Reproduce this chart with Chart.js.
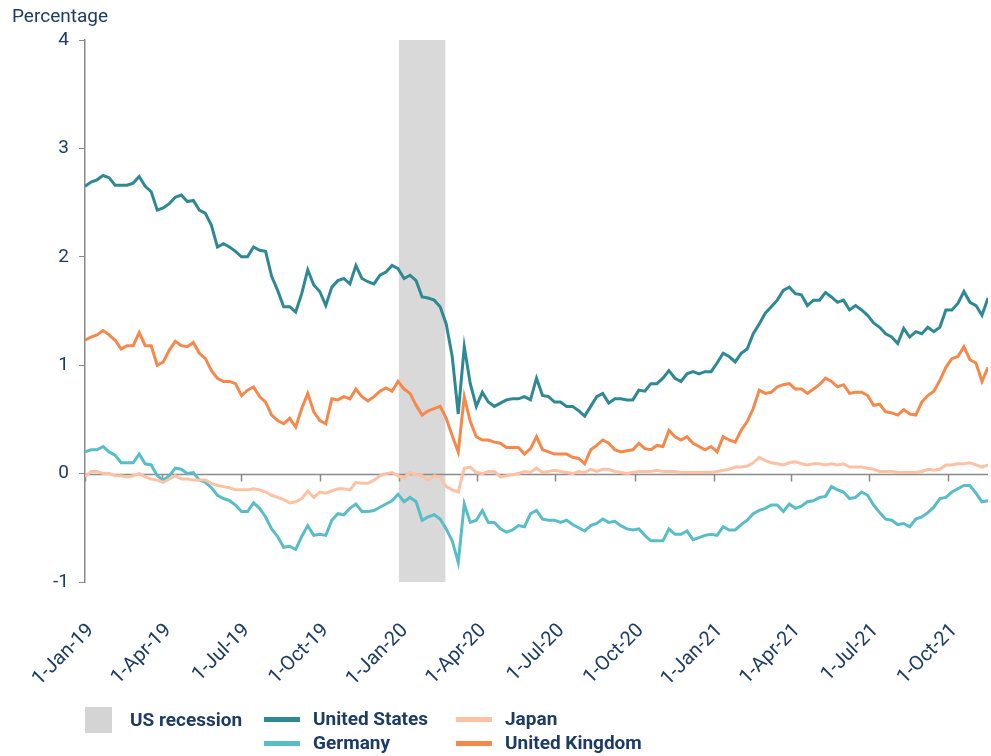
<!DOCTYPE html>
<html>
<head>
<meta charset="utf-8">
<script src="https://cdn.jsdelivr.net/npm/chart.js@4"></script>
<style>
  body { margin: 0; background: #fff; font-family: Roboto, "Noto Sans", sans-serif; color: #1d3c64; }
  #wrap { position: relative; width: 991px; height: 756px; }
  #ytitle { position: absolute; left: 12px; top: 4px; font-size: 19px; }
  .leg { position: absolute; font-size: 19px; font-weight: bold; line-height: 24px; white-space: nowrap; }
  .sw { position: absolute; }
</style>
</head>
<body>
<div id="wrap">
  <canvas id="yieldChart" width="991" height="756"></canvas>
  <div id="ytitle">Percentage</div>
  <div id="legend"></div>
</div>
<script>
// weekly samples starting 1-Jan-19
const startDate = "2019-01-01";
const endDate = "2021-11-16";

const usYield = [
  2.65, 2.69, 2.71, 2.75, 2.73, 2.66, 2.66, 2.66, 2.68, 2.74,
  2.65, 2.60, 2.43, 2.45, 2.49, 2.55, 2.57, 2.51, 2.52, 2.43,
  2.40, 2.29, 2.09, 2.12, 2.09, 2.05, 2.00, 2.00, 2.09, 2.06,
  2.05, 1.82, 1.69, 1.54, 1.54, 1.49, 1.66, 1.88, 1.74, 1.68,
  1.55, 1.72, 1.78, 1.80, 1.75, 1.92, 1.80, 1.77, 1.75, 1.83,
  1.86, 1.92, 1.89, 1.80, 1.83, 1.78, 1.63, 1.62, 1.60, 1.54,
  1.38, 1.08, 0.55, 1.17, 0.83, 0.62, 0.75, 0.66, 0.62, 0.65,
  0.68, 0.69, 0.69, 0.71, 0.68, 0.88, 0.72, 0.71, 0.66, 0.66,
  0.62, 0.62, 0.58, 0.53, 0.62, 0.71, 0.74, 0.65, 0.69, 0.69,
  0.68, 0.68, 0.77, 0.76, 0.83, 0.83, 0.88, 0.95, 0.88, 0.85,
  0.92, 0.94, 0.92, 0.94, 0.94, 1.02, 1.11, 1.08, 1.03, 1.11,
  1.15, 1.29, 1.38, 1.48, 1.54, 1.60, 1.69, 1.72, 1.66, 1.65,
  1.55, 1.60, 1.60, 1.67, 1.63, 1.58, 1.60, 1.51, 1.55, 1.51,
  1.46, 1.39, 1.35, 1.29, 1.26, 1.20, 1.34, 1.26, 1.31, 1.29,
  1.35, 1.31, 1.35, 1.51, 1.51, 1.57, 1.68, 1.58, 1.55, 1.46,
  1.62
];

const germanyYield = [
  0.20, 0.22, 0.22, 0.25, 0.20, 0.17, 0.10, 0.10, 0.10, 0.18,
  0.09, 0.08, -0.02, -0.06, -0.02, 0.05, 0.04, 0.00, 0.01, -0.06,
  -0.08, -0.13, -0.20, -0.23, -0.25, -0.29, -0.35, -0.35, -0.27, -0.32,
  -0.40, -0.51, -0.58, -0.68, -0.67, -0.70, -0.58, -0.48, -0.57, -0.56,
  -0.57, -0.43, -0.37, -0.38, -0.32, -0.28, -0.35, -0.35, -0.34, -0.31,
  -0.28, -0.25, -0.19, -0.26, -0.22, -0.26, -0.43, -0.40, -0.38, -0.42,
  -0.51, -0.62, -0.82, -0.28, -0.45, -0.43, -0.34, -0.45, -0.45, -0.51,
  -0.54, -0.52, -0.48, -0.49, -0.37, -0.34, -0.42, -0.43, -0.43, -0.45,
  -0.43, -0.47, -0.50, -0.53, -0.48, -0.46, -0.42, -0.45, -0.44, -0.48,
  -0.51, -0.52, -0.51, -0.57, -0.62, -0.62, -0.62, -0.51, -0.56, -0.56,
  -0.53, -0.61, -0.59, -0.57, -0.56, -0.57, -0.49, -0.52, -0.52, -0.47,
  -0.43, -0.37, -0.34, -0.32, -0.29, -0.29, -0.35, -0.28, -0.32, -0.30,
  -0.26, -0.25, -0.22, -0.21, -0.12, -0.15, -0.17, -0.23, -0.22, -0.17,
  -0.20, -0.29, -0.36, -0.42, -0.43, -0.47, -0.46, -0.49, -0.42, -0.40,
  -0.36, -0.31, -0.23, -0.22, -0.17, -0.14, -0.11, -0.11, -0.18, -0.26,
  -0.25
];

const japanYield = [
  -0.03, 0.02, 0.02, 0.00, 0.00, -0.02, -0.02, -0.03, -0.02, 0.00,
  -0.03, -0.05, -0.06, -0.08, -0.05, -0.02, -0.05, -0.05, -0.06, -0.06,
  -0.06, -0.09, -0.11, -0.12, -0.13, -0.15, -0.15, -0.15, -0.14, -0.15,
  -0.17, -0.20, -0.22, -0.24, -0.27, -0.26, -0.23, -0.16, -0.22, -0.17,
  -0.18, -0.16, -0.14, -0.14, -0.15, -0.08, -0.09, -0.09, -0.06, -0.02,
  0.00, 0.01, -0.02, -0.04, 0.01, -0.01, -0.02, -0.06, -0.02, -0.03,
  -0.12, -0.15, -0.17, 0.05, 0.06, 0.01, 0.00, 0.02, 0.02, -0.03,
  -0.02, -0.01, 0.00, 0.02, 0.01, 0.05, 0.01, 0.02, 0.03, 0.02,
  0.01, 0.00, 0.02, 0.01, 0.04, 0.02, 0.04, 0.04, 0.02, 0.01,
  0.00, 0.01, 0.02, 0.02, 0.02, 0.03, 0.02, 0.02, 0.02, 0.01,
  0.01, 0.01, 0.01, 0.01, 0.01, 0.02, 0.03, 0.04, 0.06, 0.06,
  0.07, 0.10, 0.15, 0.12, 0.10, 0.09, 0.08, 0.10, 0.11, 0.09,
  0.08, 0.09, 0.09, 0.08, 0.09, 0.08, 0.09, 0.06, 0.06, 0.06,
  0.05, 0.04, 0.02, 0.02, 0.02, 0.01, 0.01, 0.01, 0.01, 0.02,
  0.04, 0.03, 0.04, 0.08, 0.08, 0.09, 0.09, 0.10, 0.08, 0.06,
  0.08
];

const ukYield = [
  1.23, 1.26, 1.28, 1.32, 1.28, 1.23, 1.15, 1.18, 1.18, 1.30,
  1.18, 1.18, 1.00, 1.03, 1.14, 1.22, 1.18, 1.17, 1.21, 1.11,
  1.06, 0.95, 0.88, 0.85, 0.85, 0.83, 0.72, 0.77, 0.80, 0.71,
  0.66, 0.54, 0.49, 0.46, 0.51, 0.43, 0.60, 0.74, 0.57, 0.49,
  0.46, 0.69, 0.68, 0.71, 0.69, 0.78, 0.71, 0.67, 0.71, 0.76,
  0.79, 0.76, 0.85, 0.78, 0.74, 0.63, 0.54, 0.58, 0.60, 0.62,
  0.51, 0.35, 0.20, 0.71, 0.48, 0.34, 0.31, 0.31, 0.29, 0.28,
  0.24, 0.24, 0.24, 0.18, 0.23, 0.34, 0.22, 0.20, 0.18, 0.18,
  0.18, 0.15, 0.14, 0.09, 0.22, 0.26, 0.31, 0.28, 0.22, 0.20,
  0.21, 0.22, 0.28, 0.23, 0.22, 0.26, 0.25, 0.40, 0.34, 0.31,
  0.34, 0.28, 0.25, 0.22, 0.25, 0.20, 0.34, 0.31, 0.29, 0.40,
  0.48, 0.60, 0.77, 0.74, 0.75, 0.80, 0.82, 0.83, 0.78, 0.78,
  0.74, 0.78, 0.82, 0.88, 0.85, 0.80, 0.82, 0.74, 0.75, 0.75,
  0.72, 0.63, 0.64, 0.57, 0.56, 0.54, 0.59, 0.55, 0.54, 0.66,
  0.72, 0.76, 0.86, 0.98, 1.06, 1.08, 1.17, 1.05, 1.02, 0.85,
  0.98
];

const tickDates = ["2019-01-01", "2019-04-01", "2019-07-01", "2019-10-01",
  "2020-01-01", "2020-04-01", "2020-07-01", "2020-10-01",
  "2021-01-01", "2021-04-01", "2021-07-01", "2021-10-01"];
const tickLabels = ["1-Jan-19", "1-Apr-19", "1-Jul-19", "1-Oct-19",
  "1-Jan-20", "1-Apr-20", "1-Jul-20", "1-Oct-20",
  "1-Jan-21", "1-Apr-21", "1-Jul-21", "1-Oct-21"];

const recession = ["2020-01-01", "2020-02-24"];

const textColor = "#1d3c64";
const axisColor = "#8a8a8a";

const dayOf = s => Math.round((Date.parse(s) - Date.parse(startDate)) / 864e5);
const tickDays = tickDates.map(dayOf);
const toPoints = arr => arr.map((v, i) => ({ x: i * 7, y: v }));

const series = [
  { label: "Japan", data: japanYield, color: "#fcc2a3" },
  { label: "Germany", data: germanyYield, color: "#59bdc7" },
  { label: "United Kingdom", data: ukYield, color: "#f6884b" },
  { label: "United States", data: usYield, color: "#2e8994" }
];

// recession band + zero line with small quarter ticks
const backdrop = {
  id: "backdrop",
  beforeDatasetsDraw(chart) {
    const { ctx, chartArea, scales: { x, y } } = chart;
    ctx.save();
    ctx.fillStyle = "#d9d9d9";
    const x0 = x.getPixelForValue(dayOf(recession[0]));
    const x1 = x.getPixelForValue(dayOf(recession[1]));
    ctx.fillRect(x0, chartArea.top, x1 - x0, chartArea.bottom - chartArea.top);

    const yz = Math.round(y.getPixelForValue(0)) + 0.5;
    ctx.strokeStyle = axisColor;
    ctx.lineWidth = 1.5;
    ctx.beginPath();
    ctx.moveTo(chartArea.left, yz);
    ctx.lineTo(chartArea.right, yz);
    tickDays.forEach(d => {
      const px = Math.round(x.getPixelForValue(d)) + 0.5;
      ctx.moveTo(px, yz);
      ctx.lineTo(px, yz + 7);
    });
    ctx.stroke();
    ctx.restore();
  }
};

const ctx = document.getElementById("yieldChart").getContext("2d");

new Chart(ctx, {
  type: "line",
  data: {
    datasets: series.map(s => ({
      label: s.label,
      data: toPoints(s.data),
      borderColor: s.color,
      borderWidth: 3,
      pointRadius: 0,
      tension: 0,
      fill: false
    }))
  },
  options: {
    responsive: false,
    animation: false,
    devicePixelRatio: 1,
    layout: { padding: { top: 40, right: 3, left: 0, bottom: 0 } },
    plugins: { legend: { display: false }, tooltip: { enabled: false } },
    scales: {
      x: {
        type: "linear",
        min: 0,
        max: dayOf(endDate),
        afterFit: s => { s.height = 174; s.paddingLeft = 0; s.paddingRight = 0; },
        afterBuildTicks: s => { s.ticks = tickDays.map(v => ({ value: v })); },
        grid: { display: false },
        border: { display: false },
        ticks: {
          autoSkip: false,
          minRotation: 45,
          maxRotation: 45,
          padding: 29,
          labelOffset: 6,
          color: textColor,
          font: { family: "Roboto", size: 20 },
          callback: v => tickLabels[tickDays.indexOf(v)]
        }
      },
      y: {
        min: -1,
        max: 4,
        afterFit: s => { s.width = 85; },
        grid: { drawOnChartArea: false, drawTicks: true, tickLength: 6, color: axisColor },
        border: { display: true, color: axisColor, width: 1.5 },
        ticks: {
          stepSize: 1,
          padding: 10,
          color: textColor,
          font: { family: "Roboto", size: 19 }
        }
      }
    }
  },
  plugins: [backdrop]
});

// legend laid out in two rows like the original
const legendItems = [
  { label: "US recession", box: "#d4d4d4", left: 85, top: 707 },
  { label: "United States", line: "#2e8994", left: 264, top: 717 },
  { label: "Japan", line: "#fcc2a3", left: 456, top: 717 },
  { label: "Germany", line: "#59bdc7", left: 264, top: 741 },
  { label: "United Kingdom", line: "#f6884b", left: 456, top: 741 }
];
const legendEl = document.getElementById("legend");
legendItems.forEach(it => {
  const sw = document.createElement("div");
  sw.className = "sw";
  if (it.box) {
    Object.assign(sw.style, { left: it.left + "px", top: it.top + "px", width: "27px", height: "26px", background: it.box });
  } else {
    Object.assign(sw.style, { left: it.left + "px", top: it.top + "px", width: "36px", height: "5px", background: it.line });
  }
  legendEl.appendChild(sw);
  const t = document.createElement("div");
  t.className = "leg";
  t.textContent = it.label;
  const tx = it.box ? it.left + 45 : it.left + 49;
  const ty = it.box ? it.top + 1 : it.top - 10;
  Object.assign(t.style, { left: tx + "px", top: ty + "px" });
  legendEl.appendChild(t);
});
</script>
</body>
</html>
